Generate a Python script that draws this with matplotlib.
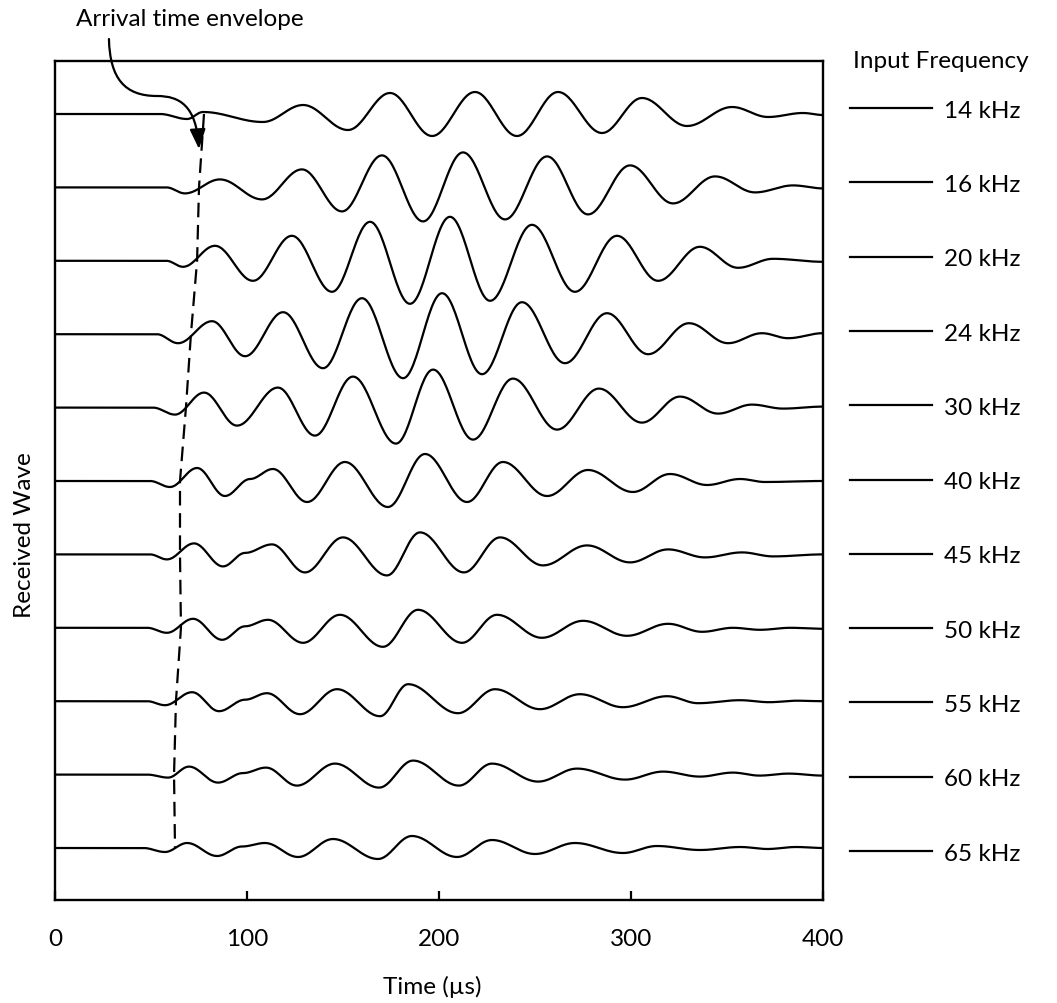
import numpy as np
import matplotlib
matplotlib.use("Agg")
import matplotlib.pyplot as plt
from matplotlib.path import Path
from matplotlib.patches import FancyArrowPatch
from matplotlib.lines import Line2D

plt.rcParams['font.family'] = ['Lato', 'DejaVu Sans']
plt.rcParams['lines.scale_dashes'] = False

# Input frequencies of the tone bursts (kHz)
freq_khz = [14, 16, 20, 24, 30, 40, 45, 50, 55, 60, 65]

# Turning points of each received wave: time (µs) and relative amplitude
t_14 = [0, 54.7, 68.8, 77.1, 108.3, 129.2, 152.6, 174.5, 196.4, 218.75, 240.6, 262.0, 284.9, 305.7, 329.2, 352.6, 371.4, 389.6, 400]
a_14 = [0, 0, -5, 2, -8, 9, -16, 21, -22, 22, -22, 22, -19, 16, -12, 7, -3, 1, -1]

t_16 = [0, 58.0, 67.7, 85.9, 107.8, 128.6, 149.5, 170.3, 191.7, 212.5, 234.4, 256.3, 277.6, 299.5, 321.9, 343.8, 364.6, 384.4, 400]
a_16 = [0, 0, -6, 8, -12, 18, -24, 32, -34, 35, -32, 31, -27, 22, -16, 11, -5, 2, -1]

t_20 = [0, 58.0, 66.7, 83.3, 103.1, 123.4, 144.3, 164.1, 184.9, 205.7, 226.6, 248.4, 270.8, 292.7, 314.1, 335.9, 355.7, 374.0, 400]
a_20 = [0, 0, -6, 15, -20, 25, -31, 39, -43, 44, -40, 36, -31, 25, -20, 14, -7, 2, -1]

t_24 = [0, 53.0, 64.1, 81.8, 99.0, 118.8, 139.6, 159.9, 181.3, 201.6, 222.4, 243.2, 265.6, 287.5, 308.9, 330.2, 350.5, 368.2, 381.8, 400]
a_24 = [0, 0, -9, 13, -22, 22, -34, 36, -44, 41, -40, 32, -29, 21, -20, 11, -9, 1, -4, 1]

t_30 = [0, 51.0, 62.5, 77.6, 94.8, 116.1, 135.4, 155.2, 177.6, 196.9, 217.7, 238.5, 261.5, 283.3, 305.7, 325.5, 345.3, 363.0, 379.2, 400]
a_30 = [0, 0, -7, 15, -18, 20, -28, 31, -36, 38, -32, 29, -22, 19, -15, 11, -6, 3, -1, 1]

t_40 = [0, 49.5, 59.9, 74.0, 88.5, 101.6, 113.5, 131.3, 151.0, 173.4, 192.7, 214.6, 233.3, 256.3, 277.6, 301.0, 320.3, 339.6, 356.8, 369.8, 400]
a_40 = [0, 0, -6, 13, -15, 2, 12, -21, 19, -26, 27, -21, 19, -15, 11, -11, 7, -4, 2, -1, 0]

t_45 = [0, 49.5, 58.3, 72.4, 87.5, 99.0, 113.0, 130.2, 150.0, 172.9, 190.1, 213.0, 231.8, 254.2, 277.1, 299.5, 319.3, 338.5, 357.8, 374.0, 400]
a_45 = [0, 0, -5, 11, -12, 1.5, 10, -18, 17, -21, 22, -18, 17, -11, 9, -8, 5, -3, 2, -2, 0]

t_50 = [0, 48.0, 58.3, 71.9, 87.0, 99.0, 110.9, 129.2, 148.4, 170.8, 189.1, 212.0, 230.2, 253.6, 275.0, 297.9, 319.3, 337.0, 353.1, 367.2, 383.0, 400]
a_50 = [0, 0, -5, 9, -12, 1.5, 8, -15, 13, -19, 18, -15, 13, -10, 7, -8, 4, -4, 0, -2, 0, -1]

t_55 = [0, 48.0, 57.3, 71.4, 85.4, 99.0, 110.4, 127.6, 146.9, 169.3, 183.9, 209.9, 229.2, 252.6, 273.4, 295.8, 318.8, 334.9, 356.8, 372.0, 386.0, 400]
a_55 = [0, 0, -4, 9, -10, 1.5, 8, -13, 12, -15, 17, -12, 12, -8, 7, -6, 5, -2, 1, -1, 0.5, 0]

t_60 = [0, 48.0, 58.9, 69.8, 84.9, 97.9, 109.9, 126.0, 145.8, 168.8, 186.5, 210.4, 227.6, 251.6, 271.9, 296.9, 316.7, 335.9, 353.0, 367.0, 382.0, 400]
a_60 = [0, 0, -3, 8, -8, 1.5, 7, -11, 11, -13, 14, -11, 11, -7, 6, -5, 3, -2, 2, -1, 1, -1]

t_65 = [0, 46.0, 57.3, 68.8, 84.4, 97.4, 109.4, 126.6, 144.8, 168.2, 185.9, 209.4, 227.6, 250.0, 270.8, 295.8, 313.5, 335.9, 357.0, 371.0, 386.0, 400]
a_65 = [0, 0, -4, 5, -8, 1.5, 5, -9, 9, -11, 12, -9, 8, -6, 5, -5, 2, -2, 1, -1, 1, 0]

# First-arrival time picked on each trace (µs)
arrival_us = [77.6, 75.0, 74.0, 70.8, 68.2, 65.1, 65.1, 65.6, 63.0, 62.0, 62.5]

waves = {
    14: (t_14, a_14), 16: (t_16, a_16), 20: (t_20, a_20), 24: (t_24, a_24),
    30: (t_30, a_30), 40: (t_40, a_40), 45: (t_45, a_45), 50: (t_50, a_50),
    55: (t_55, a_55), 60: (t_60, a_60), 65: (t_65, a_65),
}

TRACE_STEP = 73.4   # vertical offset between stacked traces


def smooth_wave(t_pts, a_pts, n=30):
    """Join successive turning points with half-cosine arcs."""
    ts, ys = [], []
    for t0, t1, a0, a1 in zip(t_pts[:-1], t_pts[1:], a_pts[:-1], a_pts[1:]):
        u = np.linspace(0.0, 1.0, n, endpoint=False)
        ts.append(t0 + (t1 - t0) * u)
        ys.append(a0 + (a1 - a0) * (1 - np.cos(np.pi * u)) / 2)
    ts.append([t_pts[-1]])
    ys.append([a_pts[-1]])
    return np.concatenate(ts), np.concatenate(ys)


W, H = 1057, 1004
fig = plt.figure(figsize=(W / 100, H / 100), dpi=100)
ax = fig.add_axes([55 / W, 103 / H, 768 / W, 839 / H])

FS = 17.5
offsets = [-i * TRACE_STEP for i in range(len(freq_khz))]

for f, off in zip(freq_khz, offsets):
    t, a = smooth_wave(*waves[f])
    ax.plot(t, a + off, color='black', lw=1.6, solid_joinstyle='round')

# Arrival time envelope
ax.plot(arrival_us, offsets, color='black', lw=1.6, dashes=(10.5, 5.5))

ax.set_xlim(0, 400)
ax.set_ylim(-786, 53)
ax.set_xticks([0, 100, 200, 300, 400])
ax.set_yticks([])
ax.tick_params(axis='x', direction='in', length=6.5, width=1.6,
               pad=20, labelsize=FS)
for sp in ax.spines.values():
    sp.set_linewidth(1.7)

ax.set_xlabel('Time (µs)', fontsize=FS, va='center')
ax.xaxis.set_label_coords(0.491, -0.1025)
ax.set_ylabel('Received Wave', fontsize=FS, va='center', ha='center')
ax.yaxis.set_label_coords(-0.0391, 0.4362)

# Curved callout arrow pointing at the envelope
verts = [(28.1, 75), (28.6, 35), (36.5, 18), (53.1, 18),
         (65.1, 18), (73.5, 8), (arrival_us[0] - 2.6, -35)]
codes = [Path.MOVETO, Path.CURVE4, Path.CURVE4, Path.CURVE4,
         Path.CURVE4, Path.CURVE4, Path.CURVE4]
arrow = FancyArrowPatch(path=Path(verts, codes),
                        arrowstyle='-|>,head_length=0.8,head_width=0.32',
                        mutation_scale=15, lw=1.6, color='black',
                        transform=ax.transData, clip_on=False)
ax.add_patch(arrow)
fig.text(190 / W, 1 - 19 / H, 'Arrival time envelope', fontsize=FS,
         ha='center', va='center')

# Frequency key to the right of the traces
fig.text(853 / W, 1 - 62 / H, 'Input Frequency', fontsize=FS,
         ha='left', va='center')
KEY_TOP, KEY_STEP = 109, 74.3
for i, f in enumerate(freq_khz):
    yc = KEY_TOP + i * KEY_STEP
    fig.add_artist(Line2D([850 / W, 932 / W], [1 - yc / H, 1 - yc / H],
                          color='black', lw=1.6, transform=fig.transFigure))
    fig.text(944 / W, 1 - (yc + 8.7) / H, f'{f} kHz', fontsize=FS,
             ha='left', va='baseline')

fig.savefig('out.png', dpi=100, facecolor='white')
